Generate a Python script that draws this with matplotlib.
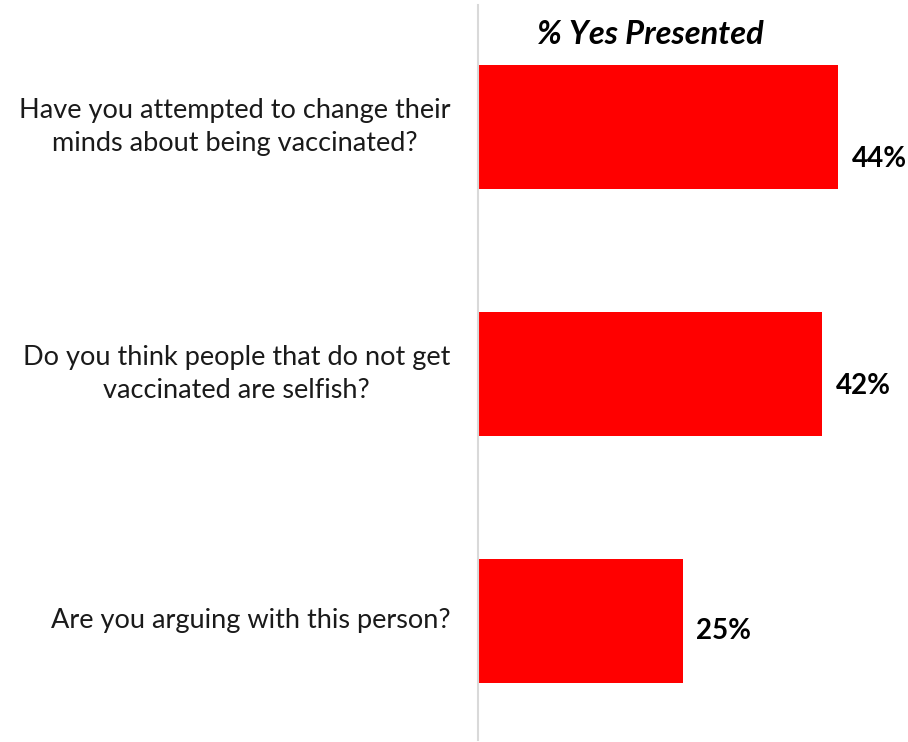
import matplotlib
matplotlib.use("Agg")
import matplotlib.pyplot as plt

# data
questions = [
    "Have you attempted to change their\nminds about being vaccinated?",
    "Do you think people that do not get\nvaccinated are selfish?",
    "Are you arguing with this person?",
]
pct_yes = [44, 42, 25]
title = "% Yes Presented"

plt.rcParams['font.family'] = ['Lato', 'DejaVu Sans']

W, H = 908, 742
fig = plt.figure(figsize=(W / 100, H / 100), dpi=100)
ax = fig.add_axes([478 / W, 1 - 740 / H, 430 / W, 735 / H])

pos = list(range(len(questions)))
ax.barh(pos, pct_yes, height=0.5, color='#ff0000')

ax.set_xlim(0, 430 / 8.18)
ax.set_ylim(2.482, -0.494)

for sp in ['top', 'right', 'bottom']:
    ax.spines[sp].set_visible(False)
ax.spines['left'].set_color('#d9d9d9')
ax.spines['left'].set_linewidth(1.5)
ax.set_xticks([])
ax.set_yticks([])

# question labels, left of the axis line
for y, q in zip(pos, questions):
    ax.text(-3.4, y, q, ha='right', va='center', multialignment='center',
            fontsize=19.5, color='#1a1a1a', linespacing=1.38)

# value labels
label_dy = [0.13, 0.05, 0.04]
for y, v, dy in zip(pos, pct_yes, label_dy):
    ax.text(v + 1.7, y + dy, f"{v}%", ha='left', va='center',
            fontsize=20, fontweight='bold', color='black')

fig.text(650 / W, 1 - 34 / H, title, ha='center', va='center',
         fontsize=23.5, fontweight='bold', fontstyle='italic', color='black')

fig.savefig("out.png", dpi=100)
